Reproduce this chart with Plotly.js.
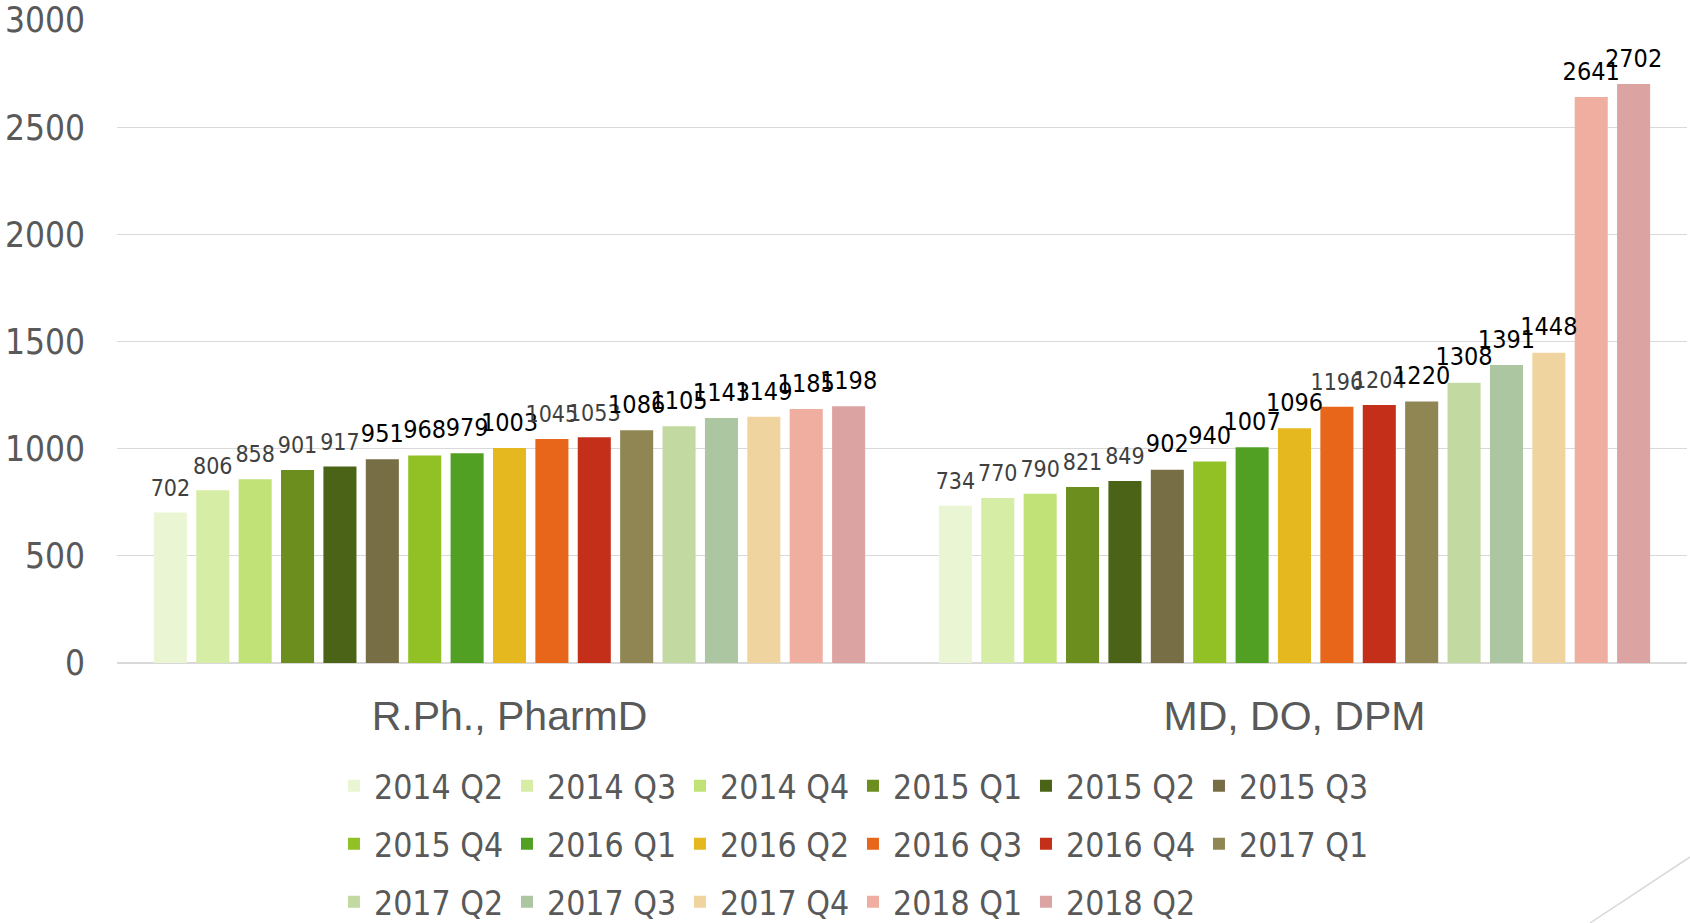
<!DOCTYPE html>
<html><head><meta charset="utf-8">
<script src="https://cdn.plot.ly/plotly-3.0.1.min.js"></script>
<style>html,body{margin:0;padding:0;background:#fff;} #chart{width:1690px;height:923px;}</style>
</head><body><div id="chart"></div>
<script>
// ---- data ----
const categories = ['R.Ph., PharmD', 'MD, DO, DPM'];
const seriesNames = ['2014 Q2','2014 Q3','2014 Q4','2015 Q1','2015 Q2','2015 Q3',
  '2015 Q4','2016 Q1','2016 Q2','2016 Q3','2016 Q4','2017 Q1',
  '2017 Q2','2017 Q3','2017 Q4','2018 Q1','2018 Q2'];
const rphValues = [702, 806, 858, 901, 917, 951, 968, 979, 1003, 1045, 1053, 1086, 1105, 1143, 1149, 1185, 1198];
const mdValues  = [734, 770, 790, 821, 849, 902, 940, 1007, 1096, 1196, 1204, 1220, 1308, 1391, 1448, 2641, 2702];
const yTicks = [0, 500, 1000, 1500, 2000, 2500, 3000];

// ---- styles ----
const seriesColors = ['#EAF5D4','#D6EDA6','#C0E277','#6B8E1F','#4A6316','#776E45',
  '#91C125','#52A023','#E6B820','#E8661A','#C42F1A','#8F8654',
  '#C2DAA2','#ABC6A0','#EFD4A0','#EFAEA0','#DCA3A3'];
const darkLabel = [false,false,false,false,false,true,true,true,true,false,false,true,true,true,true,true,true];
const COND = '"DejaVu Sans Condensed", "Liberation Sans Narrow", sans-serif';
const legendIds = ['legend','legend2','legend3'];

const barTraces = seriesNames.map((name, i) => ({
  type: 'bar',
  name: name,
  x: categories,
  y: [rphValues[i], mdValues[i]],
  marker: { color: seriesColors[i], line: { width: 0 } },
  legend: legendIds[Math.floor(i / 6)],
  hoverinfo: 'skip'
}));

const labelTraces = seriesNames.map((name, i) => ({
  type: 'scatter',
  mode: 'markers+text',
  orientation: 'v',
  name: name + ' label',
  x: categories,
  y: [rphValues[i], mdValues[i]],
  text: [rphValues[i], mdValues[i]].map(String),
  textposition: 'top center',
  marker: { size: 16, opacity: 0, color: seriesColors[i] },
  cliponaxis: false,
  textfont: { family: COND, size: darkLabel[i] ? 25 : 23, color: darkLabel[i] ? '#000000' : '#404040' },
  showlegend: false,
  hoverinfo: 'skip'
}));

function legendRow(yPos) {
  return {
    orientation: 'h', x: 0.1382, xanchor: 'left', y: yPos, yanchor: 'middle',
    font: { family: COND, size: 33.5, color: '#595959' },
    entrywidth: 128, bgcolor: 'rgba(0,0,0,0)', borderwidth: 0, traceorder: 'normal'
  };
}

const layout = {
  width: 1690, height: 923,
  margin: { l: 117, r: 3, t: 20, b: 260, autoexpand: false },
  paper_bgcolor: '#ffffff', plot_bgcolor: '#ffffff',
  barmode: 'group', bargap: 0.082, bargroupgap: 0.22,
  scattermode: 'group', scattergap: 0.082,
  showlegend: true,
  xaxis: {
    type: 'category', showline: false, ticks: '', showgrid: false, zeroline: false,
    ticklabelstandoff: 25,
    tickfont: { family: '"Liberation Sans", Arial, sans-serif', size: 41, color: '#595959' }
  },
  yaxis: {
    range: [0, 3000.5], tickvals: yTicks, ticktext: yTicks.map(String),
    showgrid: true, gridcolor: '#D9D9D9', gridwidth: 1.3,
    zeroline: true, zerolinecolor: '#D9D9D9', zerolinewidth: 1.3,
    showline: false, ticks: '', ticklabelstandoff: 31,
    tickfont: { family: COND, size: 35, color: '#595959' }
  },
  legend: legendRow(-0.1913),
  legend2: legendRow(-0.2815),
  legend3: legendRow(-0.3717),
  shapes: [{
    type: 'line', xref: 'paper', yref: 'paper',
    x0: 0.9382, y0: -0.4044, x1: 1.0019, y1: -0.3017,
    line: { color: '#D9D9D9', width: 1.5 }
  }]
};

Plotly.newPlot('chart', barTraces.concat(labelTraces), layout, { displayModeBar: false, staticPlot: true });
</script>
</body></html>
